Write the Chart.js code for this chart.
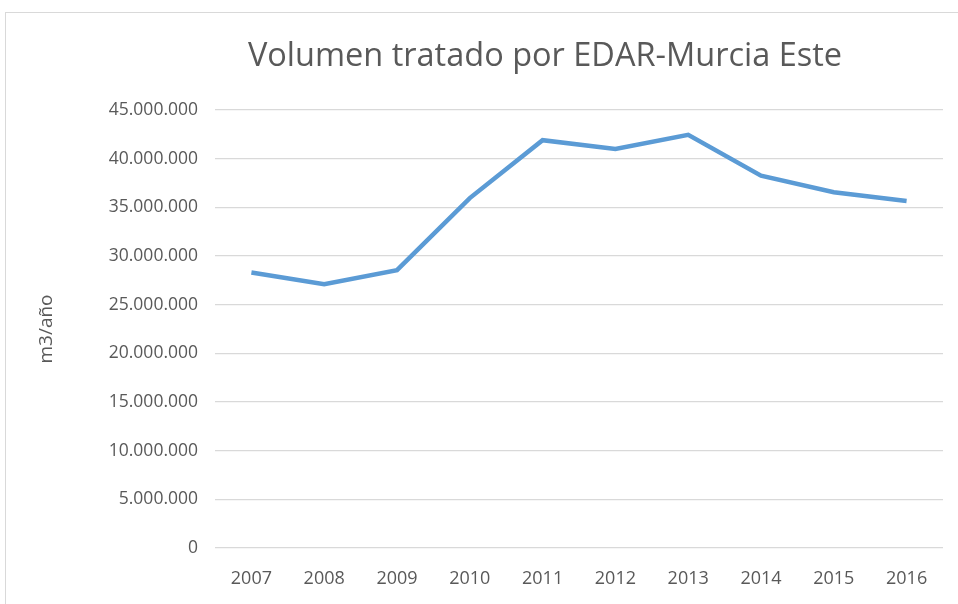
<!DOCTYPE html>
<html>
<head>
<meta charset="utf-8">
<script src="https://cdn.jsdelivr.net/npm/chart.js@4/dist/chart.umd.min.js"></script>
<style>
  html, body { margin: 0; padding: 0; background: #fff; }
  #frame {
    position: absolute; left: 5px; top: 12px; width: 970px; height: 620px;
    border: 1px solid #d9d9d9; box-sizing: border-box;
  }
  #wrap { position: absolute; left: 0; top: 0; width: 958px; height: 604px; }
</style>
</head>
<body>
<div id="frame"></div>
<div id="wrap"><canvas id="chart" width="958" height="604"></canvas></div>
<script>
// chart data
const years = ["2007", "2008", "2009", "2010", "2011", "2012", "2013", "2014", "2015", "2016"];
const volumen = [28300000, 27100000, 28550000, 35950000, 41900000, 41000000, 42450000, 38250000, 36550000, 35650000];
const yTicks = [0, 5000000, 10000000, 15000000, 20000000, 25000000, 30000000, 35000000, 40000000, 45000000];

const chartTitle = "Volumen tratado por EDAR-Murcia Este";
const yTitle = "m3/año";

const fontFamily = "'Open Sans', 'Noto Sans', sans-serif";
const textColor = "#595959";

// 45000000 -> "45.000.000"
function formatMiles(v) {
  return String(Math.round(v)).replace(/\B(?=(\d{3})+(?!\d))/g, ".");
}

// titles drawn by hand: the original's title is not centred on the canvas
const titlesPlugin = {
  id: "titles",
  afterDraw(chart) {
    const { ctx, chartArea } = chart;
    ctx.save();
    ctx.fillStyle = textColor;
    ctx.textAlign = "center";
    ctx.textBaseline = "middle";

    ctx.font = "32.5px " + fontFamily;
    ctx.fillText(chartTitle, 545, 57);

    ctx.translate(47, (chartArea.top + chartArea.bottom) / 2);
    ctx.rotate(-Math.PI / 2);
    ctx.font = "19px " + fontFamily;
    ctx.fillText(yTitle, 0, 0);
    ctx.restore();
  },
};

const ctx = document.getElementById("chart");

new Chart(ctx, {
  type: "line",
  data: {
    labels: years,
    datasets: [
      {
        label: "Volumen",
        data: volumen,
        borderColor: "#5b9bd5",
        borderWidth: 4.5,
        pointRadius: 0,
        tension: 0,
        fill: false,
      },
    ],
  },
  plugins: [titlesPlugin],
  options: {
    responsive: false,
    animation: false,
    layout: {
      padding: { top: 110, right: 15, bottom: 4, left: 30 },
    },
    plugins: {
      legend: { display: false },
      tooltip: { enabled: false },
      title: { display: false },
    },
    scales: {
      x: {
        offset: true,
        grid: { display: false, drawTicks: false },
        border: { display: false },
        ticks: {
          color: textColor,
          font: { family: fontFamily, size: 18 },
          padding: 20,
          maxRotation: 0,
        },
        afterFit: (scale) => {
          scale.height = 52;
        },
      },
      y: {
        min: 0,
        max: 45000000,
        afterBuildTicks: (scale) => {
          scale.ticks = yTicks.map((v) => ({ value: v }));
        },
        grid: { color: "#d9d9d9", lineWidth: 1.3, drawTicks: false },
        border: { display: false },
        ticks: {
          color: textColor,
          font: { family: fontFamily, size: 17.5 },
          padding: 17,
          callback: (v) => formatMiles(v),
        },
        afterFit: (scale) => {
          scale.width = 185;
        },
      },
    },
  },
});
</script>
</body>
</html>
